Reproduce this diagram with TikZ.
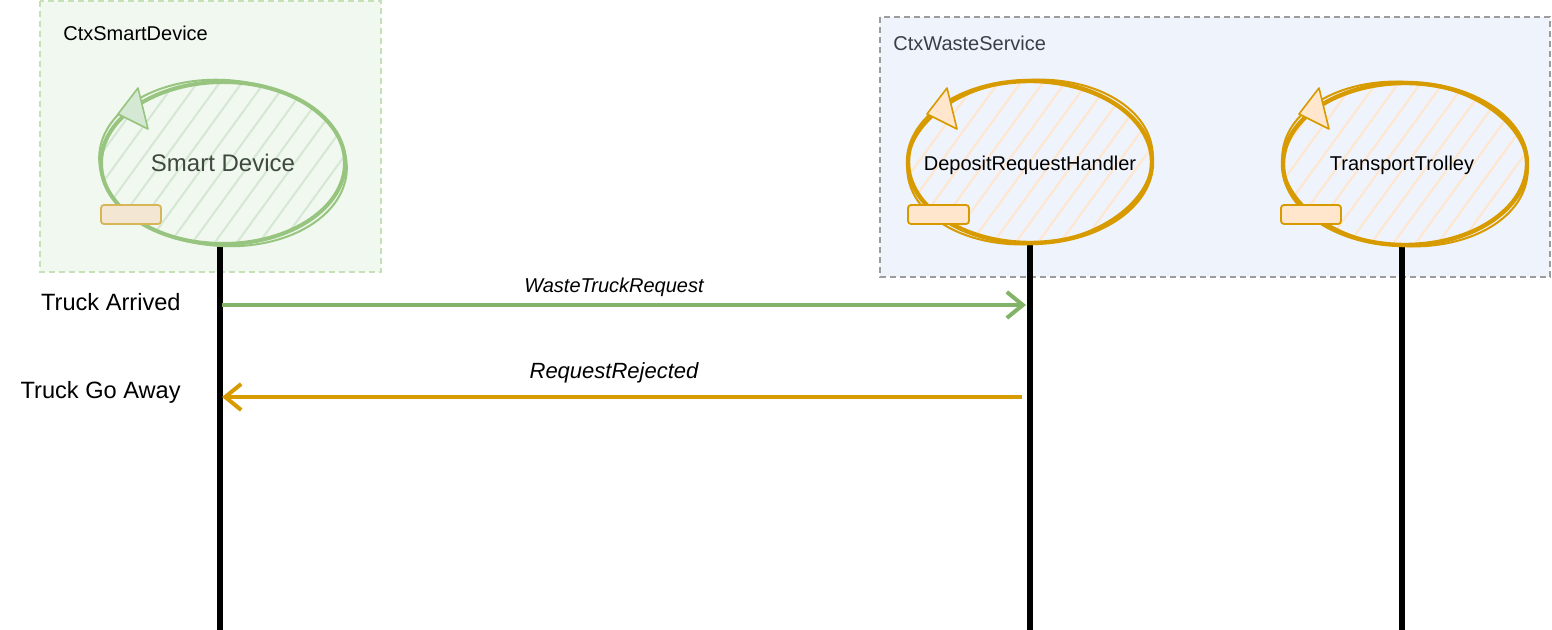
\documentclass[tikz,border=0pt]{standalone}
\usepackage{fontspec}
\setmainfont{Liberation Sans}
\usetikzlibrary{arrows.meta,patterns.meta}

\definecolor{sdfill}{HTML}{F1F8EF}
\definecolor{sdborder}{HTML}{C4E2B6}
\definecolor{wsfill}{HTML}{EFF3FB}
\definecolor{wsborder}{HTML}{9C9C9C}
\definecolor{grn}{HTML}{97C47E}
\definecolor{grnarrow}{HTML}{82B366}
\definecolor{grnlight}{HTML}{D5E8D4}
\definecolor{org}{HTML}{D79B00}
\definecolor{orglight}{HTML}{FFE6CC}
\definecolor{gold}{HTML}{D6B656}
\definecolor{cream}{HTML}{F3E7D3}
\definecolor{sdtext}{HTML}{3D4A3D}
\definecolor{wstext}{HTML}{3B3F45}

\begin{document}
\begin{tikzpicture}[x=0.5pt, y=-0.5pt,
  ctxbox/.style={dash pattern=on 3pt off 2pt, line width=0.7pt},
  lifeline/.style={black, line width=3.4pt},
  hatch/.style={pattern={Lines[angle=54, distance=9pt, line width=1pt]}},
  label/.style={font=\fontsize{10}{12}\selectfont, inner sep=0pt},
  msg/.style={line width=2pt, -{Straight Barb[length=8pt, width=13pt, line width=2pt]}}]
\useasboundingbox (0,0) rectangle (1552,630);

% contexts
\draw[ctxbox, sdborder, fill=sdfill] (40,1) rectangle (381,272);
\draw[ctxbox, wsborder, fill=wsfill] (880,17) rectangle (1550,277);
\node[label, anchor=west] (ctxsd) at (63,33) {CtxSmartDevice};
\node[label, anchor=west, text=wstext] (ctxws) at (893,43) {CtxWasteService};

% lifelines
\coordinate (sdbot) at (220,247);
\coordinate (sdend) at (220,630);
\coordinate (dhbot) at (1030,242);
\coordinate (dhend) at (1030,630);
\coordinate (ttbot) at (1402,245);
\coordinate (ttend) at (1402,630);
\draw[lifeline] (sdbot) -- (sdend);
\draw[lifeline] (dhbot) -- (dhend);
\draw[lifeline] (ttbot) -- (ttend);

% actors
\coordinate (sdc) at (223,163);
\coordinate (dhc) at (1030,162);
\coordinate (ttc) at (1405,164);
\draw[grn, line width=2pt, hatch, pattern color=grnlight] (sdc) ellipse [x radius=61pt, y radius=40.5pt];
\draw[grn, line width=1pt, rotate around={-4:(sdc)}] (sdc) ellipse [x radius=62pt, y radius=41.5pt];
\draw[org, line width=2.2pt, hatch, pattern color=orglight] (dhc) ellipse [x radius=61pt, y radius=40.5pt];
\draw[org, line width=1pt, rotate around={5:(dhc)}] (dhc) ellipse [x radius=61.5pt, y radius=41pt];
\draw[org, line width=2.2pt, hatch, pattern color=orglight] (ttc) ellipse [x radius=61pt, y radius=40.5pt];
\draw[org, line width=1pt, rotate around={-5:(ttc)}] (ttc) ellipse [x radius=61.5pt, y radius=41pt];

\draw[grn, line width=0.8pt, fill=grnlight, line join=round] (sdc) ++(-85,-75) -- ++(-20,26) -- ++(30,15) -- cycle;
\draw[org, line width=0.8pt, fill=orglight, line join=round] (dhc) ++(-83,-74) -- ++(-20,26) -- ++(30,15) -- cycle;
\draw[org, line width=0.8pt, fill=orglight, line join=round] (ttc) ++(-86,-76) -- ++(-20,26) -- ++(30,15) -- cycle;

\draw[gold, line width=0.9pt, fill=cream, rounded corners=1.5pt] (sdc) ++(-122,42) rectangle ++(60,19);
\draw[org, line width=0.9pt, fill=orglight, rounded corners=1.5pt] (dhc) ++(-122,43) rectangle ++(61,19);
\draw[org, line width=0.9pt, fill=orglight, rounded corners=1.5pt] (ttc) ++(-124,41) rectangle ++(60,19);

\node[inner sep=0pt, font=\fontsize{12}{14}\selectfont, text=sdtext] (sd) at (sdc) {Smart Device};
\node[label] (dh) at (1030,165) {DepositRequestHandler};
\node[label] (tt) at (1402,165) {TransportTrolley};

% messages
\coordinate (sdin) at (222,305);
\coordinate (dhin) at (1026,305);
\coordinate (dhout) at (1022,397);
\coordinate (sdout) at (222,397);
\draw[msg, grnarrow] (sdin) -- (dhin);
\draw[msg, org, line width=2.2pt] (dhout) -- (sdout);
\node[label, font=\fontsize{10}{12}\selectfont\itshape] (wtr) at (614,287) {WasteTruckRequest};
\node[label, font=\fontsize{11}{13}\selectfont\itshape] (rrj) at (614,373) {RequestRejected};
\node[label, anchor=east, font=\fontsize{11.8}{13}\selectfont] (arr) at (181,302) {Truck Arrived};
\node[label, anchor=east, font=\fontsize{11.8}{13}\selectfont] (away) at (181,392) {Truck Go Away};
\end{tikzpicture}
\end{document}
